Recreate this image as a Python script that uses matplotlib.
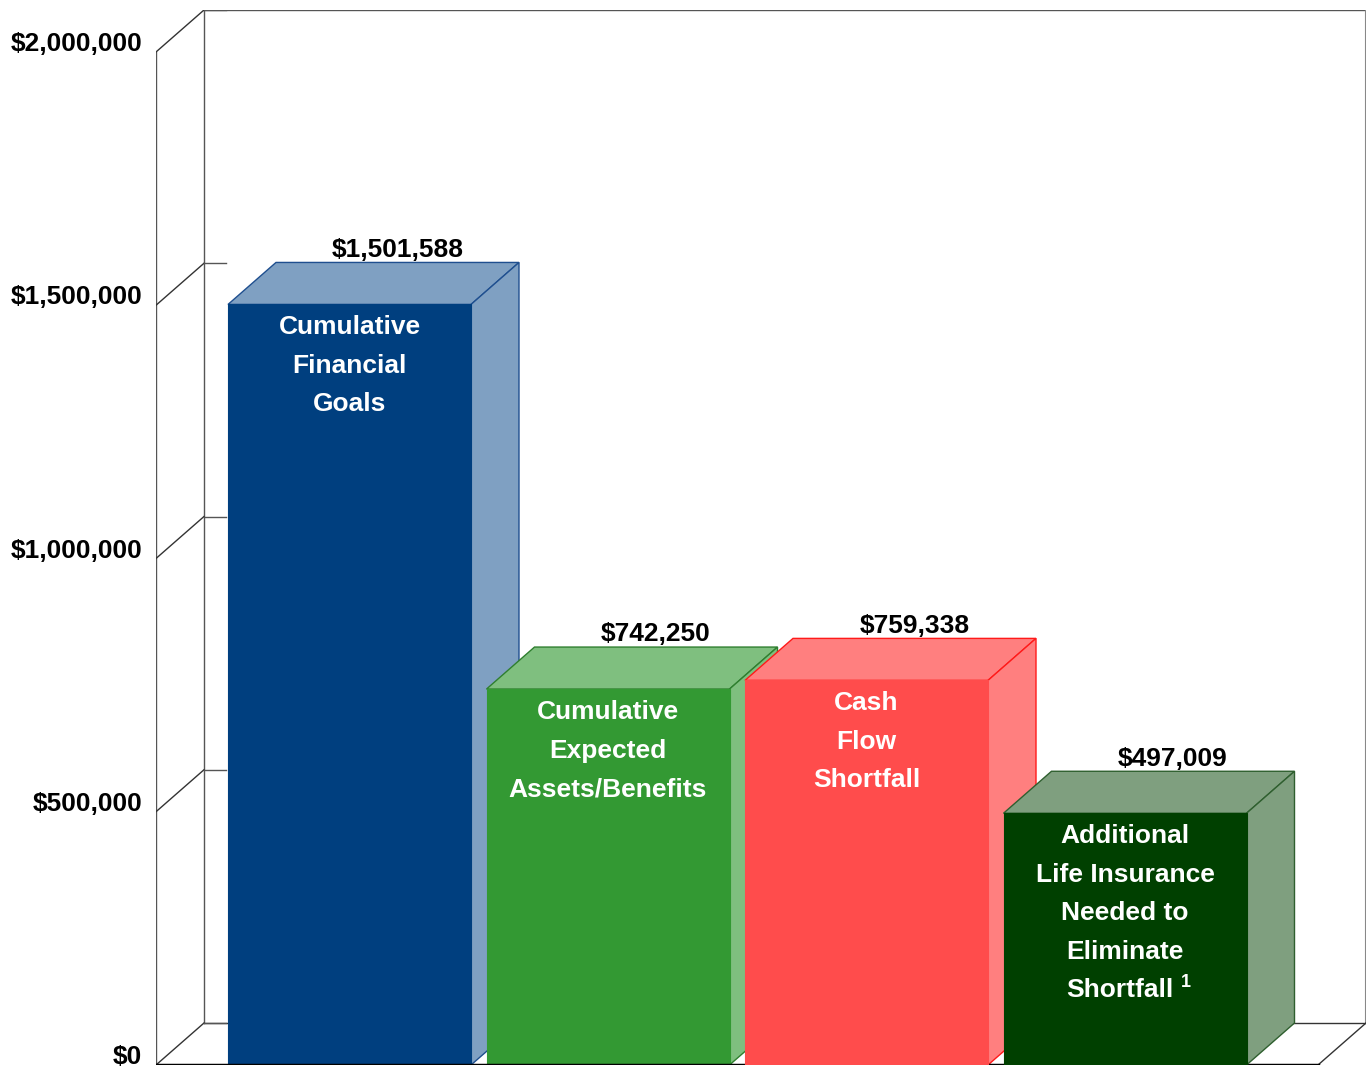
import matplotlib.pyplot as plt
from matplotlib.patches import Polygon

plt.rcParams['font.family'] = ['Liberation Sans', 'DejaVu Sans']

categories = ['Cumulative\nFinancial\nGoals',
              'Cumulative\nExpected\nAssets/Benefits',
              'Cash\nFlow\nShortfall',
              'Additional\nLife Insurance\nNeeded to\nEliminate\nShortfall']
values = [1501588, 742250, 759338, 497009]
value_labels = ['$1,501,588', '$742,250', '$759,338', '$497,009']
front_colors = ['#003F7F', '#339933', '#FF4C4C', '#004000']
face_colors = ['#7FA0C2', '#7FBF7F', '#FF7F7F', '#7F9F7F']
edge_colors = ['#1F4F8F', '#2F7F2F', '#FF1A1A', '#2F5F2F']
yticks = [0, 500000, 1000000, 1500000, 2000000]
ytick_labels = ['$0', '$500,000', '$1,000,000', '$1,500,000', '$2,000,000']

fig = plt.figure(figsize=(13.67, 10.69), dpi=100)
W, H = 1367, 1069
ax = fig.add_axes([156 / W, 4 / H, (1366 - 156) / W, (1065 - 10) / H])
ax.axis('off')

step = 258.5
x_lo = (156 - 349.5) / step
dx = 48 / step
x_hi = (1318 - 349.5) / step
px_per_val = 506.5 / 1e6
dy = 42 / px_per_val
ax.set_xlim(x_lo, x_hi + dx)
ax.set_ylim(0, 1055 / px_per_val)
width = 243 / step

# walls / frame
wall = dict(color='#555555', lw=1.0, zorder=1)
ax.plot([x_lo, x_lo], [0, 2000000], color='#555555', lw=1.0, zorder=1)
ax.plot([x_lo + dx, x_lo + dx], [dy, 2000000 + dy], **wall)
ax.plot([x_lo + dx, x_hi + dx], [2000000 + dy, 2000000 + dy], **wall)
ax.plot([x_hi + dx, x_hi + dx], [dy, 2000000 + dy], color='#888888', lw=1.5, zorder=1)
ax.plot([x_lo + dx, x_hi + dx], [dy, dy], color='#333333', lw=1.0, zorder=1)
ax.plot([x_hi, x_hi + dx], [0, dy], color='#333333', lw=1.0, zorder=1)
for t in yticks:
    ax.plot([x_lo, x_lo + dx], [t, t + dy], color='#333333', lw=1.0, zorder=1)
    ax.plot([x_lo + dx, x_lo + dx + 22 / step], [t + dy, t + dy], **wall)
ax.plot([x_lo, x_hi], [0, 0], color='black', lw=2.5, zorder=10)

for t, lab in zip(yticks, ytick_labels):
    ax.annotate(lab, (x_lo, t), xytext=(-14 * 0.72, 8 * 0.72), textcoords='offset points',
                ha='right', va='center', fontsize=19, fontweight='bold', annotation_clip=False)

xs = list(range(len(values)))
for i, (x, v) in enumerate(zip(xs, values)):
    z = 2 + i * 3
    ax.bar(x, v, width=width, color=front_colors[i], edgecolor=front_colors[i], lw=0.8, zorder=z + 2)
    x0, x1 = x - width / 2, x + width / 2
    top = Polygon([(x0, v), (x1, v), (x1 + dx, v + dy), (x0 + dx, v + dy)],
                  closed=True, facecolor=face_colors[i], edgecolor=edge_colors[i], lw=1.0, zorder=z)
    side = Polygon([(x1, 0), (x1 + dx, dy), (x1 + dx, v + dy), (x1, v)],
                   closed=True, facecolor=face_colors[i], edgecolor=edge_colors[i], lw=1.0, zorder=z)
    ax.add_patch(top)
    ax.add_patch(side)
    ax.annotate(value_labels[i], (x + dx, v + dy), xytext=(0, 0.5), textcoords='offset points',
                ha='center', va='bottom', fontsize=19, fontweight='bold', zorder=20)
    lines = categories[i].split('\n')
    for j, line in enumerate(lines):
        xo = 0
        if i == 3 and j == len(lines) - 1:
            xo = -5
            ax.annotate('1', (x, v), xytext=((61) * 0.72, (-23 - 38.5 * j + 8) * 0.72),
                        textcoords='offset points', ha='center', va='center',
                        fontsize=13, fontweight='bold', color='white', zorder=20)
        ax.annotate(line, (x, v), xytext=(xo * 0.72, (-23 - 38.5 * j) * 0.72),
                    textcoords='offset points', ha='center', va='center',
                    fontsize=19, fontweight='bold', color='white', zorder=20)

fig.savefig('out.png', dpi=100)
